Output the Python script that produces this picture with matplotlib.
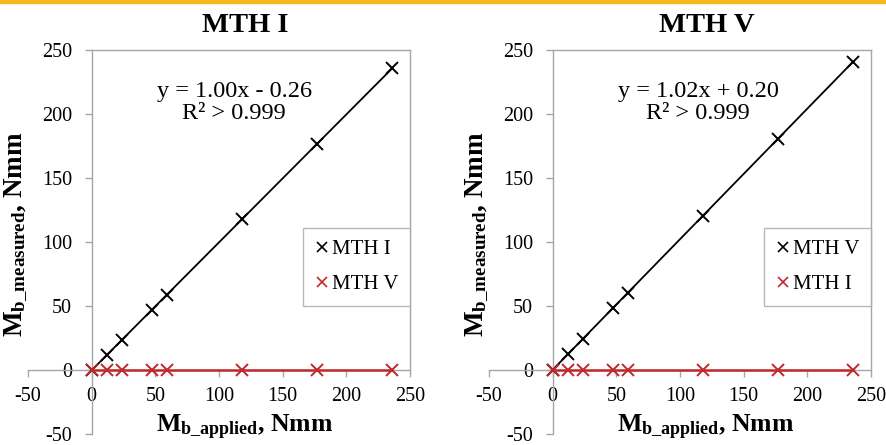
import numpy as np
import matplotlib
matplotlib.use("Agg")
import matplotlib.pyplot as plt
from matplotlib.lines import Line2D

plt.rcParams.update({"font.family": ["Liberation Serif", "DejaVu Serif"],
                     "axes.unicode_minus": False,
                     "mathtext.fontset": "custom",
                     "mathtext.rm": "Liberation Serif",
                     "mathtext.bf": "Liberation Serif:bold",
                     "mathtext.it": "Liberation Serif:italic"})

# applied bending moment, Nmm
applied = [0, 11.8, 23.6, 47.2, 59.0, 118.0, 177.0, 236.0]
# panel 1: MTH I loaded
mth1_on_mth1 = [0, 11.5, 23.3, 47.0, 58.7, 117.7, 176.5, 235.8]
mth5_on_mth1 = [0, 0, 0, 0, 0, 0, 0, 0]
# panel 2: MTH V loaded
mth5_on_mth5 = [0, 12.2, 24.3, 48.3, 60.4, 120.6, 180.7, 240.9]
mth1_on_mth5 = [0, 0, 0, 0, 0, 0, 0, 0]

titles = ["MTH I", "MTH V"]
equations = ["y = 1.00x - 0.26\nR² > 0.999", "y = 1.02x + 0.20\nR² > 0.999"]
legend_labels = [["MTH I", "MTH V"], ["MTH V", "MTH I"]]
ticks = [-50, 0, 50, 100, 150, 200, 250]

GREY = "#a6a6a6"
RED = "#c0282d"

fig = plt.figure(figsize=(8.87, 4.45), dpi=100)
fig.patches.append(plt.Rectangle((0, 0.993), 1, 0.007, transform=fig.transFigure,
                                 color="#f6b81a", zorder=0))

panels = [(mth1_on_mth1, mth5_on_mth1), (mth5_on_mth5, mth1_on_mth5)]
lefts = [28 / 887, 489 / 887]
eq_x = [0.54, 0.548]
for i, (main_y, cross_y) in enumerate(panels):
    ax = fig.add_axes([lefts[i], 11 / 445, 382 / 887, 384 / 445])
    ax.set_xlim(-50, 250); ax.set_ylim(-50, 250)
    ax.set_xticks(ticks); ax.set_yticks(ticks)
    for s in ["left", "bottom"]:
        ax.spines[s].set_position(("data", 0))
    ax.spines["top"].set_bounds(0, 250); ax.spines["right"].set_bounds(0, 250)
    for s in ax.spines.values():
        s.set_color(GREY); s.set_linewidth(1.0)
    ax.tick_params(direction="out", length=5, width=1, color=GREY, labelsize=14.5)
    ax.tick_params(axis="y", pad=9)
    ax.tick_params(axis="x", pad=7)

    x = np.array(applied)
    k, b = np.polyfit(x, main_y, 1)
    ax.plot([x.min(), x.max()], [k * x.min() + b, k * x.max() + b], color="black", lw=1.3, zorder=2)
    ax.plot(applied, main_y, "x", color="black", ms=9, mew=1.4, zorder=3)
    ax.plot(applied, cross_y, "-x", color=RED, lw=1.8, ms=9, mew=1.4, zorder=4)

    ax.text(0.57, 1.065, titles[i], transform=ax.transAxes, ha="center", va="center",
            fontsize=20.5, fontweight="bold")
    ax.text(eq_x[i], 0.863, equations[i], transform=ax.transAxes, ha="center", va="center",
            fontsize=17.5, linespacing=1.1)
    ax.text(0.568, 0.018, r"$\mathbf{M}_{\mathbf{b\_applied}}$, Nmm", transform=ax.transAxes,
            ha="center", va="center", fontsize=18.5, fontweight="bold")
    ax.text(-0.03, 0.52, r"$\mathbf{M}_{\mathbf{b\_measured}}$, Nmm", transform=ax.transAxes,
            ha="center", va="center", rotation=90, fontsize=19.5, fontweight="bold")

    handles = [Line2D([], [], ls="", marker="x", color="black", ms=6.5, mew=1.2),
               Line2D([], [], ls="", marker="x", color=RED, ms=6.5, mew=1.2)]
    leg = ax.legend(handles, legend_labels[i], loc="upper right", bbox_to_anchor=(1.0, 0.537),
                    fontsize=15, frameon=True, fancybox=False, handlelength=0.7,
                    handletextpad=0.15, labelspacing=0.75, borderpad=0.55, borderaxespad=0)
    leg.get_frame().set_edgecolor(GREY); leg.get_frame().set_linewidth(1.0)

fig.savefig("out.png", dpi=100)
